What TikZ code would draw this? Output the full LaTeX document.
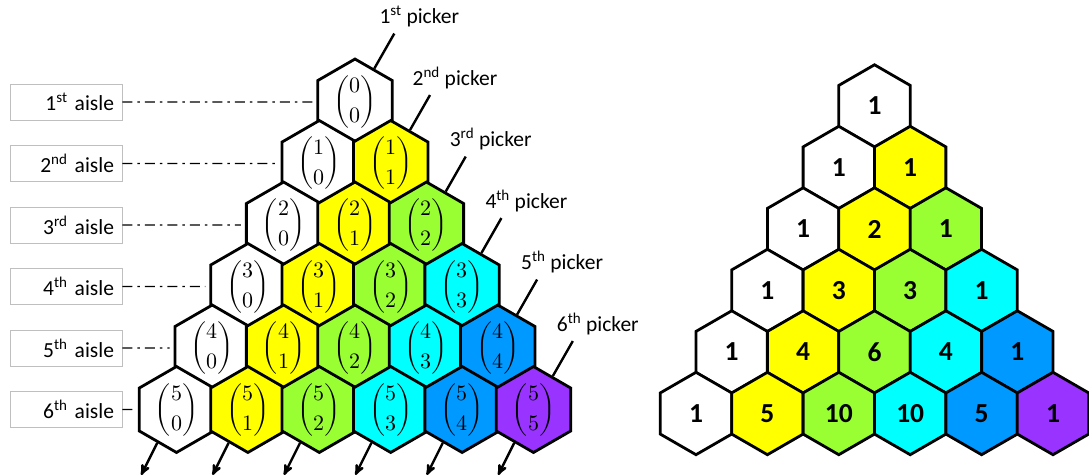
\documentclass[tikz,border=0pt]{standalone}
\usepackage{amsmath}
\usepackage{fontspec}
\usepackage{unicode-math}
\setmainfont{Carlito}
\usepackage{tikz}
\usetikzlibrary{arrows,shapes.geometric,calc}

\definecolor{c0}{HTML}{FFFFFF}
\definecolor{c1}{HTML}{FFFF00}
\definecolor{c2}{HTML}{99FF33}
\definecolor{c3}{HTML}{00FFFF}
\definecolor{c4}{HTML}{0099FF}
\definecolor{c5}{HTML}{9933FF}

\begin{document}
\begin{tikzpicture}[x=1pt,y=-1pt,>=stealth',
        hex/.style={regular polygon,regular polygon sides=6,shape border rotate=30,
          draw,line width=2.8pt,minimum size=82.4pt,inner sep=0pt},
        aisle/.style={draw=black!25,line width=0.9pt,text width=96pt,align=right,
          minimum height=36pt,inner sep=8pt,font=\fontsize{21.5}{26}\selectfont},
        picker/.style={anchor=south,font=\fontsize{21.5}{26}\selectfont},
        guide/.style={line width=1.4pt,dash pattern=on 10pt off 5pt on 2.5pt off 5pt,
          shorten >=4pt},
        pick/.style={line width=2.4pt}]

  \useasboundingbox (0,0) rectangle (1089,476);

  % binomial coefficients
  \foreach \r in {0,...,5}
    \foreach \k in {0,...,\r}
      \node[hex,fill=c\k,font=\fontsize{22}{26}\selectfont] (b\r\k)
        at (355-35.7*\r+71.4*\k, 102+61.5*\r) {$\dbinom{\r}{\k}$};

  % their values
  \foreach \r in {0,...,5}
    \foreach \k in {0,...,\r} {
      \pgfmathtruncatemacro\val{round(factorial(\r)/(factorial(\k)*factorial(\r-\k)))}
      \node[hex,fill=c\k,font=\fontsize{27.5}{31}\bfseries] (n\r\k)
        at (874.5-35.7*\r+71.4*\k, 106+61.5*\r) {\val};
    }

  \foreach \r/\ord [count=\n] in {0/st,1/nd,2/rd,3/th,4/th,5/th} {
    \node[aisle] (aisle\n) at (66, 102+61.5*\r) {\n\textsuperscript{\ord} aisle};
    \draw[guide] (aisle\n.east) -- (b\r0.west);

    \coordinate (t\n) at ($(b\r\r.60)+(20,-35)$);
    \draw[pick] (b\r\r.60) -- (t\n);
    \node[picker] (picker\n) at ($(t\n)+(25,-3)$) {\n\textsuperscript{\ord} picker};
  }

  \foreach \k in {0,...,5} {
    \coordinate (a\k) at ($(b5\k.240)+(-16,32)$);
    \draw[->,pick] (b5\k.240) -- (a\k);
  }

\end{tikzpicture}
\end{document}
